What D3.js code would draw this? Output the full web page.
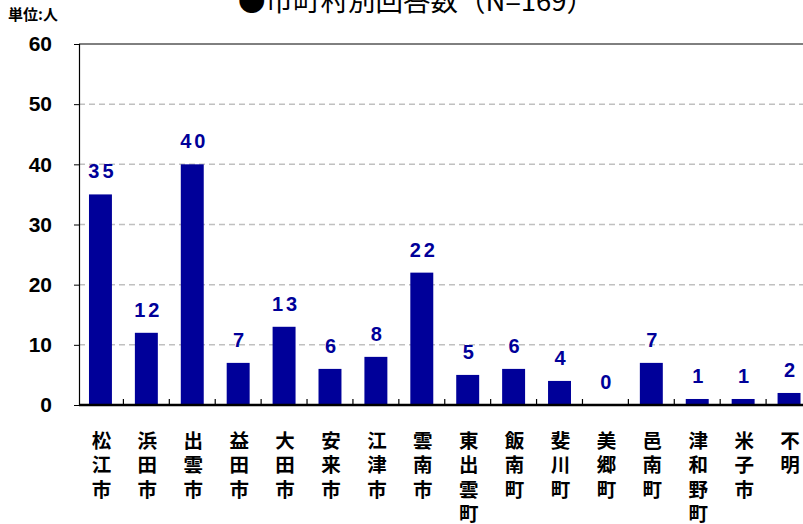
<!DOCTYPE html>
<html>
<head>
<meta charset="utf-8">
<script src="https://cdn.jsdelivr.net/npm/d3@7"></script>
<style>
  body { margin: 0; background: #fff; }
  svg { display: block; }
</style>
</head>
<body>
<svg id="chart" width="803" height="524"></svg>
<script>
// municipalities (x categories) and answer counts
var categories = ["松江市", "浜田市", "出雲市", "益田市", "大田市", "安来市", "江津市", "雲南市",
  "東出雲町", "飯南町", "斐川町", "美郷町", "邑南町", "津和野町", "米子市", "不明"];
var counts = [35, 12, 40, 7, 13, 6, 8, 22, 5, 6, 4, 0, 7, 1, 1, 2];
var yTicks = [0, 10, 20, 30, 40, 50, 60];

var svg = d3.select("#chart"),
  plotLeft = 79,
  plotBottom = 405,
  plotTop = 44,
  barColor = "#000099",
  jpFont = "'Noto Sans CJK JP', sans-serif",
  numFont = "'Liberation Sans', Arial, sans-serif";

var x = d3.scaleBand()
  .domain(categories)
  .range([77.5, 812])
  .paddingInner(0.5)
  .paddingOuter(0.25);

var y = d3.scaleLinear()
  .domain([0, 60])
  .range([plotBottom, plotTop]);

// title, cut off at the top like the source
svg.append("text")
  .attr("x", 416)
  .attr("y", 11)
  .attr("text-anchor", "middle")
  .style("font-family", jpFont)
  .style("font-size", "27.5px")
  .text("●市町村別回答数（N=169）");

svg.append("text")
  .attr("x", 8)
  .attr("y", 20)
  .style("font-family", jpFont)
  .style("font-weight", "bold")
  .style("font-size", "15px")
  .text("単位:人");

// dashed grid lines
svg.append("g")
  .selectAll("line")
  .data(yTicks.filter(function(d) { return d > 0 && d < 60; }))
  .enter()
  .append("line")
  .attr("x1", plotLeft)
  .attr("x2", 803)
  .attr("y1", function(d) { return y(d); })
  .attr("y2", function(d) { return y(d); })
  .attr("stroke", "#c0c0c0")
  .attr("stroke-width", 1.5)
  .attr("stroke-dasharray", "6,4");

// top border
svg.append("line")
  .attr("x1", plotLeft)
  .attr("x2", 803)
  .attr("y1", y(60))
  .attr("y2", y(60))
  .attr("stroke", "#000")
  .attr("stroke-width", 1);

// y axis
var yAxis = svg.append("g")
  .attr("transform", "translate(" + plotLeft + ",0)")
  .call(d3.axisLeft(y).tickValues(yTicks).tickSize(5).tickPadding(22));

yAxis.select(".domain").attr("stroke", "#000").attr("stroke-width", 1.2);
yAxis.selectAll("text")
  .attr("fill", "#000")
  .style("font-family", numFont)
  .style("font-weight", "bold")
  .style("font-size", "21px");

// bars
svg.append("g")
  .selectAll("rect")
  .data(counts)
  .enter()
  .append("rect")
  .attr("x", function(d, i) { return x(categories[i]); })
  .attr("y", function(d) { return y(d); })
  .attr("width", x.bandwidth())
  .attr("height", function(d) { return y(0) - y(d); })
  .attr("fill", barColor);

// value labels
svg.append("g")
  .selectAll("text")
  .data(counts)
  .enter()
  .append("text")
  .attr("x", function(d, i) { return x(categories[i]) + x.bandwidth() / 2 + 2; })
  .attr("y", function(d) { return y(d) - 16; })
  .attr("text-anchor", "middle")
  .attr("fill", barColor)
  .style("font-family", numFont)
  .style("font-weight", "bold")
  .style("font-size", "20px")
  .style("letter-spacing", "3px")
  .text(function(d) { return d; });

// x axis baseline with small inward ticks between categories
var xAxis = svg.append("g");
xAxis.append("line")
  .attr("x1", plotLeft)
  .attr("x2", 803)
  .attr("y1", plotBottom)
  .attr("y2", plotBottom)
  .attr("stroke", "#000")
  .attr("stroke-width", 2.5);

xAxis.selectAll("line.tick")
  .data(categories.slice(1))
  .enter()
  .append("line")
  .attr("class", "tick")
  .attr("x1", function(d) { return x(d) - x.step() * x.paddingInner() / 2; })
  .attr("x2", function(d) { return x(d) - x.step() * x.paddingInner() / 2; })
  .attr("y1", plotBottom)
  .attr("y2", plotBottom - 6)
  .attr("stroke", "#000")
  .attr("stroke-width", 1.2);

// vertical category labels, one character per line
var labels = svg.append("g")
  .selectAll("text")
  .data(categories)
  .enter()
  .append("text")
  .attr("text-anchor", "middle")
  .style("font-family", jpFont)
  .style("font-weight", "bold")
  .style("font-size", "19.5px")
  .attr("fill", "#000");

labels.each(function(d) {
  var t = d3.select(this),
    cx = x(d) + x.bandwidth() / 2 + 1;
  d.split("").forEach(function(ch, j) {
    t.append("tspan")
      .attr("x", cx)
      .attr("y", 447.5 + j * 24.5)
      .text(ch);
  });
});
</script>
</body>
</html>
